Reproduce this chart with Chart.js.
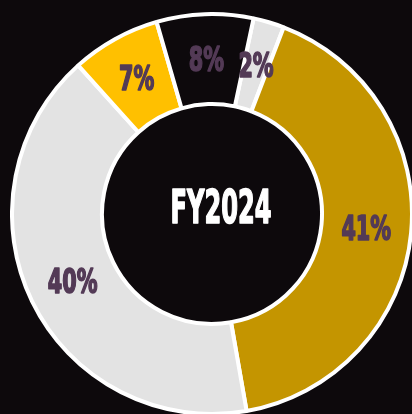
<!DOCTYPE html>
<html>
<head>
<meta charset="utf-8">
<script src="https://cdn.jsdelivr.net/npm/chart.js@4.4.1/dist/chart.umd.min.js"></script>
<style>
  html, body { margin: 0; padding: 0; background: #0d090c; overflow: hidden; }
  body { width: 412px; height: 414px; position: relative; }
  #wrap { position: absolute; left: 10px; top: 12px; width: 404px; height: 404px; }
</style>
</head>
<body>
<div id="wrap"><canvas id="chart"></canvas></div>
<script>
// segments in clockwise order, starting just right of the top
const segments = ['Segment A', 'Segment B', 'Segment C', 'Segment D', 'Segment E'];
const shares = [2.5, 41.4, 41.1, 7.2, 7.8];
const shareLabels = ['2%', '41%', '40%', '7%', '8%'];
const segmentColors = ['#e3e3e3', '#c49500', '#e3e3e3', '#ffc000', '#0d090c'];
const centerTitle = 'FY2024';

const LABEL_FONT = '"DejaVu Sans Condensed", "DejaVu Sans", sans-serif';

// condensed heavy text: squeeze horizontally, thicken with a stroke
function heavyText(ctx, text, x, y, size, sx, color) {
  ctx.save();
  ctx.translate(x, y);
  ctx.scale(sx, 1);
  ctx.font = 'bold ' + size + 'px ' + LABEL_FONT;
  ctx.fillStyle = color;
  ctx.strokeStyle = color;
  ctx.lineWidth = 1.6;
  ctx.lineJoin = 'round';
  ctx.strokeText(text, 0, 0);
  ctx.fillText(text, 0, 0);
  ctx.restore();
}

// draws the percentage on each arc and the title in the hole
const labelPlugin = {
  id: 'arcLabels',
  afterDatasetsDraw(chart) {
    const ctx = chart.ctx;
    const meta = chart.getDatasetMeta(0);
    ctx.save();
    ctx.textAlign = 'center';
    ctx.textBaseline = 'middle';
    meta.data.forEach((arc, i) => {
      const p = arc.tooltipPosition();
      heavyText(ctx, shareLabels[i], p.x, p.y + 3, 33, 0.7, '#533a56');
    });
    const a = meta.data[0];
    heavyText(ctx, centerTitle, a.x + 9, a.y - 3, 47, 0.57, '#ffffff');
    ctx.restore();
  }
};

new Chart(document.getElementById('chart'), {
  type: 'doughnut',
  data: {
    labels: segments,
    datasets: [{
      data: shares,
      backgroundColor: segmentColors,
      borderColor: '#ffffff',
      borderWidth: 4,
      hoverOffset: 0
    }]
  },
  options: {
    responsive: true,
    maintainAspectRatio: false,
    animation: false,
    rotation: 12,
    cutout: '55%',
    layout: { padding: 0 },
    plugins: {
      legend: { display: false },
      tooltip: { enabled: false }
    }
  },
  plugins: [labelPlugin]
});
</script>
</body>
</html>
